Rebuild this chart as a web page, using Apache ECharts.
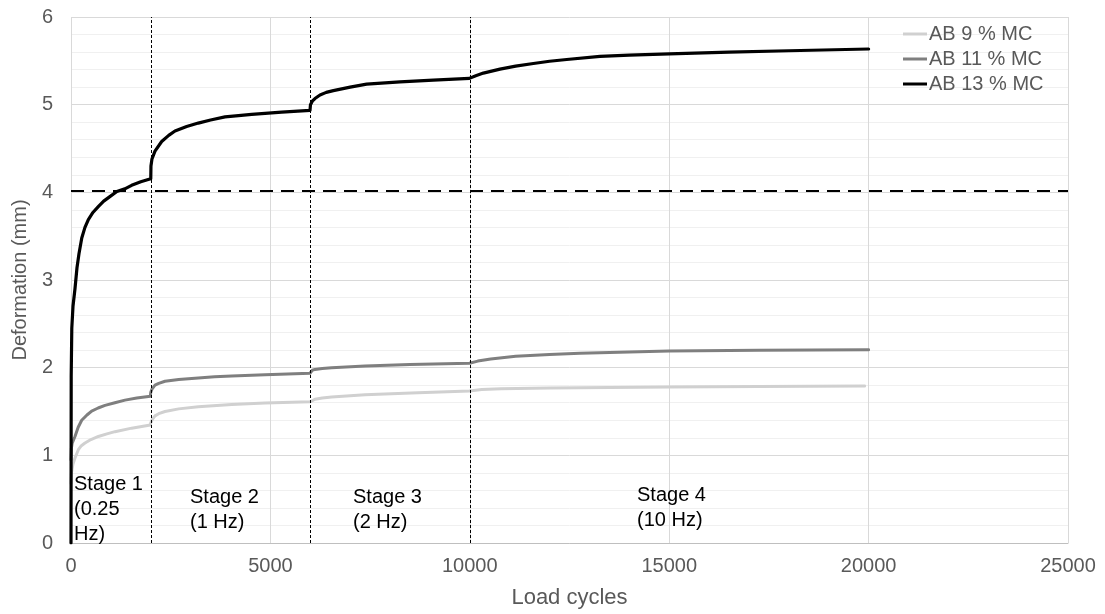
<!DOCTYPE html>
<html>
<head>
<meta charset="utf-8">
<script src="https://cdn.jsdelivr.net/npm/echarts@6/dist/echarts.min.js"></script>
<style>
html,body{margin:0;padding:0;background:#fff;}
#chart{width:1105px;height:614px;}
</style>
</head>
<body>
<div id="chart"></div>
<script>
// ---- data ----
const seriesNames = ['AB 9 % MC', 'AB 11 % MC', 'AB 13 % MC'];

const cycles9 = [0, 10, 50, 100, 184, 260, 351, 500, 686, 900, 1103, 1521, 1990, 2000, 2040, 2106, 2200, 2357, 2700, 3192, 4029, 4865, 5993, 6010, 6118, 6300, 6536, 7372, 8700, 9990, 10300, 10783, 12000, 12763, 15000, 17240, 19900];
const def9 = [0.68, 0.8, 0.9, 0.97, 1.064, 1.11, 1.14, 1.18, 1.215, 1.245, 1.27, 1.31, 1.347, 1.37, 1.41, 1.45, 1.475, 1.50, 1.53, 1.555, 1.58, 1.596, 1.61, 1.625, 1.64, 1.655, 1.665, 1.69, 1.715, 1.734, 1.75, 1.76, 1.767, 1.77, 1.78, 1.786, 1.79];

const cycles11 = [0, 10, 30, 100, 180, 268, 400, 518, 680, 853, 1100, 1354, 1650, 1990, 2000, 2030, 2106, 2200, 2357, 2700, 3192, 3600, 4029, 4865, 5993, 6005, 6050, 6118, 6300, 6536, 7372, 8500, 9990, 10200, 10525, 11150, 12000, 12763, 14000, 15000, 17240, 20000];
const def11 = [0.95, 1.08, 1.14, 1.215, 1.32, 1.40, 1.46, 1.505, 1.54, 1.57, 1.60, 1.63, 1.655, 1.675, 1.72, 1.755, 1.80, 1.82, 1.845, 1.865, 1.883, 1.895, 1.905, 1.92, 1.936, 1.955, 1.97, 1.98, 1.99, 2.0, 2.02, 2.035, 2.05, 2.075, 2.10, 2.13, 2.15, 2.165, 2.18, 2.19, 2.20, 2.205];

const cycles13 = [0, 5, 20, 50, 100, 150, 200, 270, 350, 435, 550, 690, 820, 940, 1150, 1350, 1520, 1750, 2000, 2005, 2030, 2106, 2274, 2450, 2608, 2900, 3192, 3500, 3862, 4200, 4530, 5283, 5993, 6005, 6050, 6118, 6244, 6400, 6578, 7000, 7414, 8250, 9085, 9990, 10150, 10340, 10757, 11150, 11594, 12000, 12430, 13265, 14000, 15000, 16500, 18000, 20000];
const def13 = [0, 1.9, 2.45, 2.7, 2.9, 3.14, 3.3, 3.48, 3.6, 3.69, 3.77, 3.84, 3.9, 3.94, 4.01, 4.04, 4.08, 4.12, 4.155, 4.3, 4.38, 4.47, 4.58, 4.65, 4.70, 4.75, 4.79, 4.825, 4.86, 4.875, 4.89, 4.915, 4.935, 5.0, 5.04, 5.07, 5.11, 5.14, 5.16, 5.2, 5.235, 5.26, 5.28, 5.30, 5.33, 5.36, 5.405, 5.44, 5.47, 5.495, 5.515, 5.55, 5.565, 5.58, 5.60, 5.615, 5.635];

const stageBoundaries = [2000, 6000, 10000];
const thresholdValue = 4.02;
const stageLabels = ['Stage 1\n(0.25\nHz)', 'Stage 2\n(1 Hz)', 'Stage 3\n(2 Hz)', 'Stage 4\n(10 Hz)'];
const xAxisName = 'Load cycles';
const yAxisName = 'Deformation (mm)';

// ---- chart ----
const FONT = '"Liberation Sans", Arial, sans-serif';
const pair = (xs, ys) => xs.map((x, i) => [x, ys[i]]);
const colors = ['#d0d0d0', '#7f7f7f', '#000000'];
const widths = [3, 3, 3.2];

const chart = echarts.init(document.getElementById('chart'), null, {renderer: 'canvas'});

const series = [
  {name: seriesNames[0], data: pair(cycles9, def9)},
  {name: seriesNames[1], data: pair(cycles11, def11)},
  {name: seriesNames[2], data: pair(cycles13, def13)}
].map((s, i) => ({
  type: 'line',
  name: s.name,
  data: s.data,
  showSymbol: false,
  symbol: 'none',
  smooth: false,
  z: 3 + i,
  lineStyle: {color: colors[i], width: widths[i], cap: 'round', join: 'round'},
  itemStyle: {color: colors[i]}
}));

// reference lines
series.push({
  type: 'line',
  name: 'refs',
  data: [],
  silent: true,
  z: 2,
  markLine: {
    silent: true,
    symbol: ['none', 'none'],
    label: {show: false},
    data: [
      ...stageBoundaries.map(b => ({xAxis: b, lineStyle: {type: [3, 2], width: 1, color: '#000'}})),
      {yAxis: thresholdValue, lineStyle: {type: [13, 8], width: 2.2, color: '#000'}}
    ]
  }
});

const stageStyle = {fill: '#000', font: '20px ' + FONT, lineHeight: 25};

chart.setOption({
  animation: false,
  backgroundColor: '#ffffff',
  grid: {left: 71, right: 37, top: 17, bottom: 69, containLabel: false},
  legend: {
    data: seriesNames,
    orient: 'vertical',
    left: 898,
    top: 19,
    itemGap: 5,
    itemWidth: 24,
    itemHeight: 3,
    icon: 'rect',
    textStyle: {color: '#595959', fontSize: 20, fontFamily: FONT, padding: [0, 0, 0, -3]}
  },
  xAxis: {
    type: 'value',
    min: 0,
    max: 25000,
    interval: 5000,
    name: xAxisName,
    nameLocation: 'middle',
    nameGap: 44,
    nameTextStyle: {color: '#595959', fontSize: 22, fontFamily: FONT},
    axisLine: {show: true, lineStyle: {color: '#bfbfbf', width: 1}},
    axisTick: {show: false},
    axisLabel: {color: '#595959', fontSize: 20, fontFamily: FONT, margin: 13, formatter: v => String(v)},
    splitLine: {show: true, lineStyle: {color: '#d9d9d9', width: 1}}
  },
  yAxis: {
    type: 'value',
    min: 0,
    max: 6,
    interval: 1,
    name: yAxisName,
    nameLocation: 'middle',
    nameGap: 39,
    nameRotate: 90,
    nameTextStyle: {color: '#595959', fontSize: 20, fontFamily: FONT},
    axisLine: {show: false},
    axisTick: {show: false},
    axisLabel: {color: '#595959', fontSize: 20, fontFamily: FONT, margin: 18},
    splitLine: {show: true, lineStyle: {color: '#d9d9d9', width: 1}},
    minorTick: {show: false, splitNumber: 5},
    minorSplitLine: {show: true, lineStyle: {color: '#f0f0f0', width: 1}}
  },
  graphic: [
    {type: 'text', left: 74, top: 472, z: 10, style: Object.assign({text: stageLabels[0]}, stageStyle)},
    {type: 'text', left: 190, top: 485, z: 10, style: Object.assign({text: stageLabels[1]}, stageStyle)},
    {type: 'text', left: 353, top: 485, z: 10, style: Object.assign({text: stageLabels[2]}, stageStyle)},
    {type: 'text', left: 637, top: 483, z: 10, style: Object.assign({text: stageLabels[3]}, stageStyle)}
  ],
  series: series
});
</script>
</body>
</html>
